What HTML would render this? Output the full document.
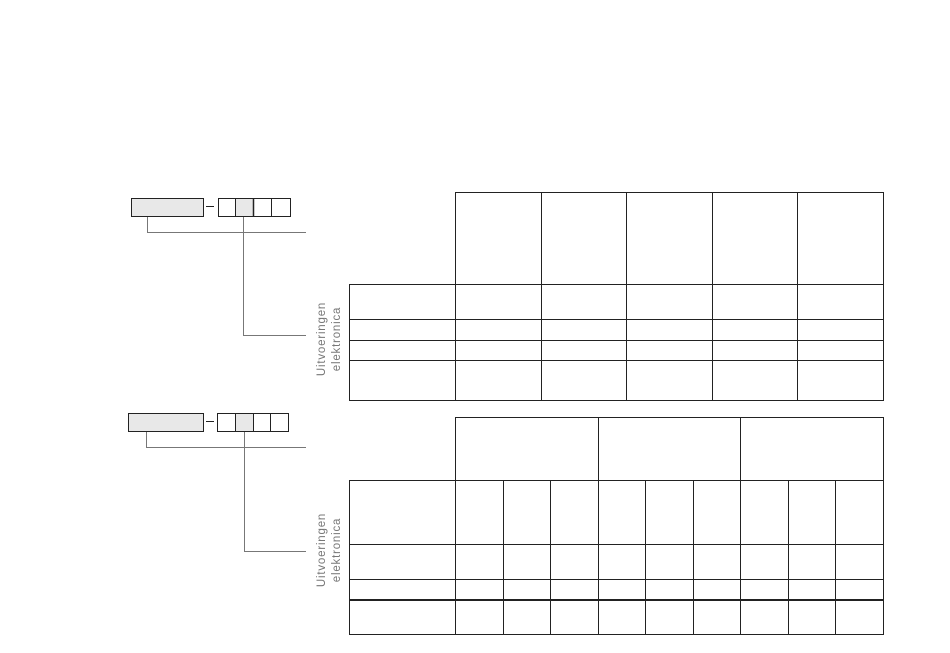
<!DOCTYPE html>
<html><head><style>
body{margin:0;background:#fff;}
svg{display:block;}
text{font-family:"Liberation Sans",sans-serif;font-size:11.5px;letter-spacing:0.8px;fill:#777;}
</style></head><body>
<svg width="950" height="653" viewBox="0 0 950 653" xmlns="http://www.w3.org/2000/svg">
<g fill="none" stroke="#222" stroke-width="1">
<rect x="131.5" y="198.5" width="72" height="18" fill="#e8e8e8"/>
<line x1="206" y1="206.5" x2="214" y2="206.5"/>
<rect x="218.5" y="198.5" width="72" height="18"/>
<rect x="235.5" y="198.5" width="18" height="18" fill="#e8e8e8"/>
<line x1="253.5" y1="198" x2="253.5" y2="217" stroke-width="1.5"/>
<line x1="271.5" y1="198" x2="271.5" y2="217"/>
<rect x="128.5" y="413.5" width="75" height="18" fill="#e8e8e8"/>
<line x1="206" y1="421.5" x2="214" y2="421.5"/>
<rect x="217.5" y="413.5" width="71" height="18"/>
<rect x="235.5" y="413.5" width="18" height="18" fill="#e8e8e8"/>
<line x1="253.5" y1="413" x2="253.5" y2="432"/>
<line x1="270.5" y1="413" x2="270.5" y2="432"/>
</g>
<g fill="none" stroke="#777" stroke-width="1">
<polyline points="147.5,217 147.5,232.5 306,232.5"/>
<polyline points="243.5,217 243.5,335.5 306,335.5"/>
<polyline points="146.5,432 146.5,447.5 306,447.5"/>
<polyline points="244.5,432 244.5,551.5 306,551.5"/>
</g>
<g fill="none" stroke="#222" stroke-width="1">
<rect x="455.5" y="192.5" width="428" height="208"/>
<rect x="349.5" y="284.5" width="534" height="116"/>
<line x1="541.5" y1="192" x2="541.5" y2="400"/>
<line x1="626.5" y1="192" x2="626.5" y2="400"/>
<line x1="712.5" y1="192" x2="712.5" y2="400"/>
<line x1="797.5" y1="192" x2="797.5" y2="400"/>
<line x1="349" y1="319.5" x2="883" y2="319.5"/>
<line x1="349" y1="340.5" x2="883" y2="340.5"/>
<line x1="349" y1="360.5" x2="883" y2="360.5"/>
<rect x="455.5" y="417.5" width="428" height="217"/>
<rect x="349.5" y="480.5" width="534" height="154"/>
<line x1="598.5" y1="417" x2="598.5" y2="634"/>
<line x1="740.5" y1="417" x2="740.5" y2="634"/>
<line x1="503.5" y1="480" x2="503.5" y2="634"/>
<line x1="550.5" y1="480" x2="550.5" y2="634"/>
<line x1="645.5" y1="480" x2="645.5" y2="634"/>
<line x1="693.5" y1="480" x2="693.5" y2="634"/>
<line x1="788.5" y1="480" x2="788.5" y2="634"/>
<line x1="835.5" y1="480" x2="835.5" y2="634"/>
<line x1="349" y1="544.5" x2="883" y2="544.5"/>
<line x1="349" y1="579.5" x2="883" y2="579.5"/>
<line x1="349" y1="600" x2="883" y2="600" stroke-width="2"/>
</g>
<text transform="translate(325,339) rotate(-90)" text-anchor="middle">Uitvoeringen</text>
<text transform="translate(340,339) rotate(-90)" text-anchor="middle">elektronica</text>
<text transform="translate(325,550) rotate(-90)" text-anchor="middle">Uitvoeringen</text>
<text transform="translate(340,550) rotate(-90)" text-anchor="middle">elektronica</text>
</svg>
</body></html>
